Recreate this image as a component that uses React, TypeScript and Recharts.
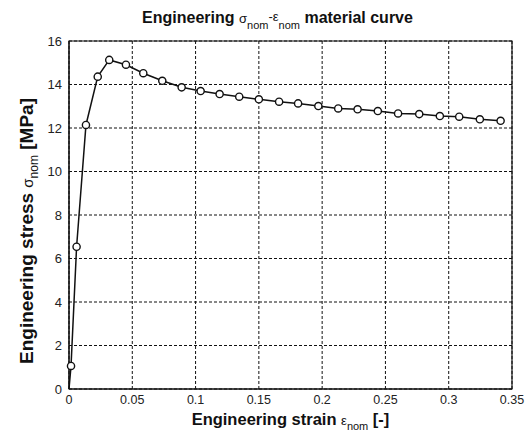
import React from "react";
import {
  LineChart,
  Line,
  XAxis,
  YAxis,
  CartesianGrid,
  ReferenceArea,
  Label,
} from "recharts";

const strain = [
  0, 0.0016, 0.006, 0.0134, 0.0227, 0.0318, 0.045, 0.0587, 0.0737, 0.089,
  0.104, 0.119, 0.1345, 0.15, 0.166, 0.181, 0.197, 0.2127, 0.228, 0.244, 0.26,
  0.2767, 0.293, 0.3083, 0.3246, 0.341,
];
const stress = [
  0, 1.06, 6.54, 12.14, 14.36, 15.13, 14.91, 14.52, 14.17, 13.87, 13.7, 13.56,
  13.44, 13.32, 13.21, 13.13, 13.01, 12.9, 12.86, 12.78, 12.67, 12.64, 12.55,
  12.52, 12.4, 12.33,
];
const xTicks = [0, 0.05, 0.1, 0.15, 0.2, 0.25, 0.3, 0.35];
const xTickLabels = ["0", "0.05", "0.1", "0.15", "0.2", "0.25", "0.3", "0.35"];
const yTicks = [0, 2, 4, 6, 8, 10, 12, 14, 16];
const yTickLabels = ["0", "2", "4", "6", "8", "10", "12", "14", "16"];

const data = strain.map((s, i) => ({ strain: s, stress: stress[i] }));

const FONT = '"Liberation Sans", Arial, sans-serif';

const renderTitle = (props: any) => {
  const { x, y, width } = props.viewBox;
  return (
    <text
      x={x + width / 2 - 13}
      y={y - 18}
      textAnchor="middle"
      fontFamily={FONT}
      fontSize={16}
      fontWeight="bold"
      fill="#111"
    >
      Engineering{" "}
      <tspan fontWeight="normal" fontSize={13}>σ</tspan>
      <tspan fontWeight="normal" fontSize={11} dy={6}>nom</tspan>
      <tspan fontWeight="normal" fontSize={13} dy={-8}>-ε</tspan>
      <tspan fontWeight="normal" fontSize={11} dy={8}>nom</tspan>
      <tspan dy={-6}> material curve</tspan>
    </text>
  );
};

const renderXLabel = (props: any) => {
  const { x, width } = props.viewBox;
  return (
    <text
      x={x + width / 2}
      y={425}
      textAnchor="middle"
      fontFamily={FONT}
      fontSize={16.5}
      fontWeight="bold"
      fill="#111"
    >
      Engineering strain{" "}
      <tspan fontWeight="normal" fontSize={13}>ε</tspan>
      <tspan fontWeight="normal" fontSize={11} dy={5}>nom</tspan>
      <tspan dy={-5}> [-]</tspan>
    </text>
  );
};

const renderYLabel = (props: any) => {
  const cx = 33;
  const cy = 231;
  return (
    <text
      x={cx}
      y={cy}
      transform={`rotate(-90, ${cx}, ${cy})`}
      textAnchor="middle"
      fontFamily={FONT}
      fontSize={19}
      fontWeight="bold"
      fill="#111"
    >
      Engineering stress{" "}
      <tspan fontWeight="normal" fontSize={15}>σ</tspan>
      <tspan fontWeight="normal" fontSize={12} dy={5}>nom</tspan>
      <tspan dy={-5}> [MPa]</tspan>
    </text>
  );
};

const renderDot = (props: any) => {
  const { cx, cy, index } = props;
  if (index === 0) return <g key={`d${index}`} />;
  return (
    <circle
      key={`d${index}`}
      cx={cx}
      cy={cy}
      r={3.6}
      fill="#fff"
      stroke="#111"
      strokeWidth={1.4}
    />
  );
};

export default function App() {
  return (
    <div style={{ position: "absolute", left: 0, top: 0, background: "#fff" }}>
      <LineChart
        width={532}
        height={437}
        data={data}
        margin={{ top: 41, right: 20, bottom: 0, left: 0 }}
      >
        <CartesianGrid
          stroke="#111"
          strokeDasharray="3 2"
          strokeWidth={1}
          horizontalValues={yTicks}
          verticalValues={xTicks}
        />
        <XAxis
          dataKey="strain"
          type="number"
          domain={[0, 0.35]}
          ticks={xTicks}
          tickFormatter={(v: number, i: number) => xTickLabels[i]}
          height={48}
          tickSize={0}
          tickMargin={6}
          axisLine={{ stroke: "#111" }}
          tick={{ fill: "#222", fontSize: 12.5, fontFamily: FONT }}
          interval={0}
        >
          <Label content={renderXLabel} />
        </XAxis>
        <YAxis
          type="number"
          domain={[0, 16]}
          ticks={yTicks}
          tickFormatter={(v: number, i: number) => yTickLabels[i]}
          width={69}
          tickSize={0}
          tickMargin={7}
          axisLine={{ stroke: "#111" }}
          tick={{ fill: "#222", fontSize: 13, fontFamily: FONT }}
          interval={0}
        >
          <Label content={renderYLabel} />
        </YAxis>
        <ReferenceArea
          x1={0}
          x2={0.35}
          y1={0}
          y2={16}
          fill="none"
          fillOpacity={0}
          stroke="#111"
          strokeWidth={1.2}
        >
          <Label content={renderTitle} />
        </ReferenceArea>
        <Line
          dataKey="stress"
          type="linear"
          stroke="#111"
          strokeWidth={1.5}
          dot={renderDot}
          isAnimationActive={false}
        />
      </LineChart>
    </div>
  );
}
